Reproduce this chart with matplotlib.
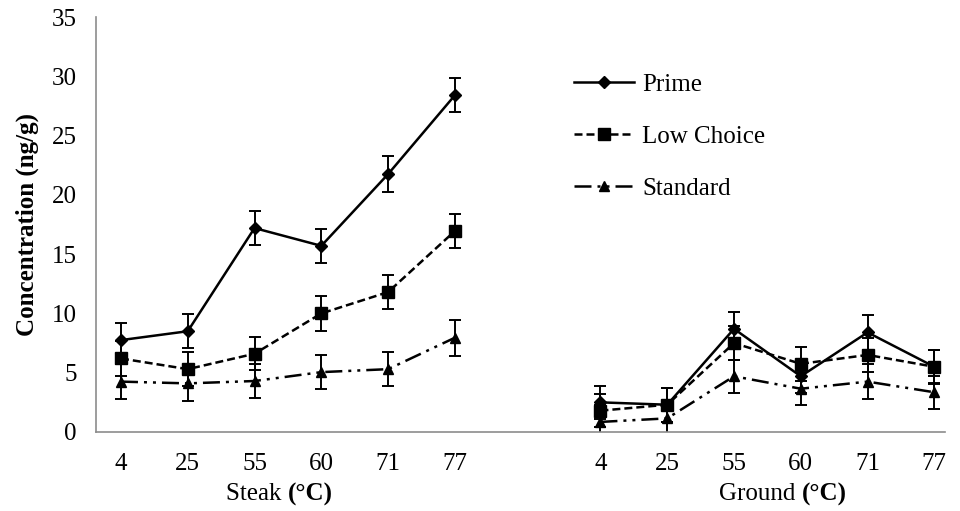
import numpy as np
import matplotlib
matplotlib.use("Agg")
import matplotlib.pyplot as plt
from matplotlib.transforms import blended_transform_factory

plt.rcParams['font.family'] = ['Liberation Serif', 'DejaVu Serif']

temps = ['4', '25', '55', '60', '71', '77']

# Steak
steak_prime = [7.75, 8.5, 17.2, 15.7, 21.75, 28.4]
steak_low = [6.2, 5.3, 6.6, 10.0, 11.8, 16.95]
steak_std = [4.25, 4.1, 4.3, 5.05, 5.3, 7.95]

# Ground
ground_prime = [2.5, 2.3, 8.7, 4.7, 8.4, 5.5]
ground_low = [1.8, 2.3, 7.5, 5.75, 6.5, 5.5]
ground_std = [0.85, 1.15, 4.7, 3.65, 4.25, 3.35]

# standard error (ng/g)
err_prime = [1.45, 1.45, 1.45, 1.45, 1.5, 1.45]
err_low = [1.45, 1.45, 1.4, 1.45, 1.45, 1.45]
err_std = [1.45, 1.45, 1.45, 1.45, 1.45, 1.5]
gerr_prime = [1.4, 1.45, 1.4, 1.4, 1.45, 1.4]
gerr_low = [1.4, 1.45, 1.4, 1.45, 1.45, 1.45]
gerr_std = [1.4, 1.4, 1.4, 1.4, 1.45, 1.4]

x_steak = np.arange(len(temps))
x_ground = np.arange(len(temps)) + 7.18

styles = {
    'Prime': dict(ls='-', marker='D', ms=6),
    'Low Choice': dict(ls=(0, (3.2, 1.6)), marker='s', ms=8.5),
    'Standard': dict(ls=(0, (6.8, 2.4, 1.2, 2.4, 1.2, 2.4)), marker='^', ms=7.5),
}

series = [
    ('Prime', steak_prime, err_prime, ground_prime, gerr_prime),
    ('Low Choice', steak_low, err_low, ground_low, gerr_low),
    ('Standard', steak_std, err_std, ground_std, gerr_std),
]

fig = plt.figure(figsize=(9.6, 5.11), dpi=100)
ax = fig.add_axes([0.1, 0.1546, 0.8844, 0.8121])

for name, sv, se, gv, ge in series:
    st = styles[name]
    for xs, ys, es, lab in [(x_steak, sv, se, name), (x_ground, gv, ge, None)]:
        ax.errorbar(xs, ys, yerr=es, fmt='none', ecolor='black',
                    elinewidth=1.4, capsize=4.5, capthick=1.4, zorder=2)
        ax.plot(xs, ys, color='black', lw=1.8, linestyle=st['ls'],
                marker=st['marker'], ms=st['ms'], mfc='black', mec='black',
                label=lab, zorder=3)

ax.set_ylim(0, 35)
ax.set_yticks(np.arange(0, 36, 5))
ax.set_xlim(-0.374, 12.34)
ax.set_xticks(np.concatenate([x_steak, x_ground]))
ax.set_xticklabels(temps + temps)
ax.tick_params(axis='both', length=0, labelsize=18, colors='black')
ax.tick_params(axis='x', pad=15)
ax.tick_params(axis='y', pad=14)

for side in ['top', 'right']:
    ax.spines[side].set_visible(False)
for side in ['left', 'bottom']:
    ax.spines[side].set_color('#8c8c8c')
    ax.spines[side].set_linewidth(1.2)

ax.set_ylabel('Concentration (ng/g)', fontsize=18, fontweight='bold', labelpad=9)

# group labels with bold unit
trans = blended_transform_factory(ax.transData, fig.transFigure)
for xc, word in [(2.5, 'Steak '), (10.2, 'Ground ')]:
    ax.text(xc, 0.021, word, transform=trans, ha='right', va='baseline',
            fontsize=18)
    ax.text(xc, 0.021, '(°C)', transform=trans, ha='left', va='baseline',
            fontsize=18, fontweight='bold')

ax.legend(loc='upper left', bbox_to_anchor=(0.537, 0.918), frameon=False,
          fontsize=18, handlelength=2.4, handletextpad=0.3, labelspacing=1.17,
          numpoints=1)

fig.savefig('out.png', dpi=100)
